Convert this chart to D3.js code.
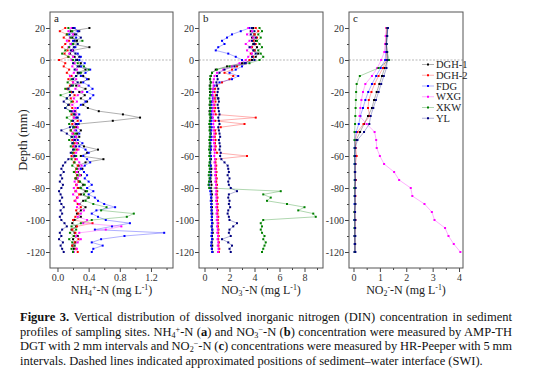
<!DOCTYPE html>
<html>
<head>
<meta charset="utf-8">
<script src="https://cdnjs.cloudflare.com/ajax/libs/d3/7.8.5/d3.min.js"></script>
<style>
  body { margin: 0; background: #fff; }
  svg text { font-family: "Liberation Serif", "Times New Roman", serif; }
</style>
</head>
<body>
<svg id="chart" width="554" height="384"></svg>
<script>
'use strict';

var sites = ['DGH-1', 'DGH-2', 'FDG', 'WXG', 'XKW', 'YL'];
var siteColors = ['#000000', '#ff0000', '#0000ff', '#ff00ff', '#008000', '#000080'];

// DGT depths (2 mm) and HR-Peeper depths (5 mm), mm
var depthDGT = [20, 18, 16, 14, 12, 10, 8, 6, 4, 2, 0,
    -2, -4, -6, -8, -10, -12, -14, -16, -18, -20,
    -22, -24, -26, -28, -30, -32, -34, -36, -38, -40,
    -42, -44, -46, -48, -50, -52, -54, -56, -58, -60,
    -62, -64, -66, -68, -70, -72, -74, -76, -78, -80,
    -82, -84, -86, -88, -90, -92, -94, -96, -98, -100,
    -102, -104, -106, -108, -110, -112, -114, -116, -118, -120];
var depthPeeper = [20, 15, 10, 5, 0, -5, -10, -15, -20, -25, -30, -35, -40, -45, -50,
    -55, -60, -65, -70, -75, -80, -85, -90, -95, -100, -105, -110, -115, -120];

// (a) NH4+-N, mg/L
var nh4DGH1 = [0.41, 0.17, 0.22, 0.19, 0.25, 0.18, 0.41, 0.20, 0.16, 0.22, 0.25,
    0.30, 0.28, 0.36, 0.26, 0.33, 0.40, 0.30, 0.24, 0.36, 0.28,
    0.35, 0.30, 0.38, 0.33, 0.39, 0.53, 0.84, 1.06, 0.71, 0.27,
    0.24, 0.30, 0.25, 0.28, 0.22, 0.26, 0.34, 0.52, 0.38, 0.30,
    0.59, 0.36, 0.27, 0.32, 0.26, 0.30, 0.24, 0.28, 0.33, 0.27,
    0.36, 0.30, 0.40, 0.33, 0.28, 0.36, 0.30, 0.25, 0.30, 0.22,
    0.19, 0.24, 0.18, 0.22, 0.26, 0.20, 0.23, 0.19, 0.21, 0.20];
var nh4DGH2 = [0.10, 0.03, 0.12, 0.08, 0.15, 0.10, 0.06, 0.13, 0.09, 0.14, 0.02,
    0.10, 0.08, 0.15, 0.12, 0.18, 0.14, 0.20, 0.16, 0.12, 0.18,
    0.22, 0.17, 0.20, 0.15, 0.19, 0.23, 0.18, 0.21, 0.26, 0.19,
    0.22, 0.17, 0.20, 0.24, 0.19, 0.22, 0.20, 0.25, 0.21, 0.18,
    0.23, 0.21, 0.26, 0.24, 0.22, 0.25, 0.23, 0.27, 0.24, 0.26,
    0.23, 0.28, 0.25, 0.22, 0.26, 0.30, 0.24, 0.27, 0.23, 0.20,
    0.45, 0.25, 0.19, 0.23, 0.21, 0.27, 0.22, 0.19, 0.24, 0.26];
var nh4FDG = [0.22, 0.26, 0.15, 0.24, 0.20, 0.17, 0.23, 0.19, 0.26, 0.30, 0.28,
    0.35, 0.30, 0.42, 0.36, 0.30, 0.38, 0.33, 0.40, 0.45, 0.38,
    0.46, 0.42, 0.36, 0.30, 0.26, 0.22, 0.28, 0.24, 0.30, 0.26,
    0.20, 0.24, 0.28, 0.22, 0.26, 0.32, 0.28, 0.36, 0.40, 0.33,
    0.38, 0.42, 0.35, 0.30, 0.34, 0.38, 0.35, 0.40, 0.44, 0.38,
    0.46, 0.40, 0.48, 0.52, 0.60, 0.74, 0.50, 0.44, 0.52, 0.62,
    0.93, 0.70, 0.48, 1.37, 0.86, 0.56, 0.44, 0.58, 0.46, 0.44];
var nh4WXG = [0.18, 0.14, 0.20, 0.16, 0.12, 0.17, 0.14, 0.19, 0.15, 0.20, 0.18,
    0.22, 0.19, 0.25, 0.21, 0.16, 0.24, 0.20, 0.28, 0.23, 0.32,
    0.26, 0.21, 0.25, 0.19, 0.23, 0.20, 0.24, 0.21, 0.19, 0.23,
    0.26, 0.22, 0.19, 0.24, 0.21, 0.25, 0.22, 0.27, 0.24, 0.21,
    0.25, 0.28, 0.31, 0.27, 0.25, 0.29, 0.26, 0.22, 0.25, 0.21,
    0.24, 0.20, 0.26, 0.23, 0.28, 0.25, 0.34, 0.30, 0.26, 0.38,
    0.33, 0.82, 0.62, 0.28, 0.24, 0.30, 0.26, 0.22, 0.25, 0.21];
var nh4XKW = [0.14, 0.19, 0.12, 0.17, 0.32, 0.20, 0.15, 0.10, 0.06, 0.14, 0.20,
    0.26, 0.34, 0.40, 0.30, 0.24, 0.18, 0.13, 0.20, 0.10, 0.16,
    0.04, 0.12, 0.18, 0.14, 0.10, 0.16, 0.21, 0.12, 0.18, 0.15,
    0.21, 0.17, 0.23, 0.19, 0.15, 0.20, 0.17, 0.22, 0.19, 0.24,
    0.18, 0.22, 0.19, 0.25, 0.21, 0.26, 0.23, 0.29, 0.35, 0.30,
    0.38, 0.34, 0.40, 0.36, 0.46, 0.63, 0.56, 0.98, 0.89, 0.44,
    0.30, 0.18, 0.24, 0.16, 0.21, 0.15, 0.19, 0.22, 0.18, 0.20];
var nh4YL = [0.20, 0.28, 0.24, 0.30, 0.22, 0.26, 0.21, 0.17, 0.23, 0.28, 0.24,
    0.20, 0.26, 0.22, 0.28, 0.24, 0.20, 0.26, 0.18, 0.14, 0.20,
    0.16, 0.12, 0.08, 0.14, 0.10, 0.18, 0.22, 0.26, 0.20, 0.24,
    0.16, 0.05, 0.12, 0.18, 0.22, 0.19, 0.24, 0.20, 0.17, 0.22,
    0.14, 0.10, 0.07, 0.05, 0.08, 0.04, 0.06, 0.03, 0.07, 0.05,
    0.02, 0.04, 0.06, 0.03, 0.05, 0.08, 0.04, 0.06, 0.03, 0.05,
    0.09, 0.12, 0.06, 0.03, 0.05, 0.02, 0.07, 0.04, 0.06, 0.08];

// (b) NO3--N, mg/L
var no3DGH1 = [3.9, 3.7, 4.0, 3.8, 4.1, 3.9, 4.2, 4.0, 4.3, 4.1, 3.8,
    3.0, 1.8, 0.9, 0.6, 0.5, 0.45, 0.5, 0.42, 0.48, 0.44,
    0.5, 1.1, 0.48, 0.42, 0.46, 0.4, 0.45, 0.5, 0.44, 0.48,
    0.42, 0.46, 0.5, 0.44, 0.48, 0.42, 0.46, 0.5, 0.45, 0.48,
    0.52, 0.46, 0.5, 0.55, 0.5, 0.54, 0.48, 0.52, 0.56, 0.5,
    0.55, 0.6, 0.54, 0.58, 0.55, 0.6, 0.56, 0.62, 0.58, 0.6,
    0.64, 0.58, 0.62, 0.66, 0.6, 0.64, 0.58, 0.62, 0.6, 0.64];
var no3DGH2 = [4.1, 4.3, 4.0, 4.2, 3.9, 4.1, 3.8, 4.0, 3.7, 3.9, 3.6,
    3.3, 2.6, 2.2, 1.6, 2.3, 2.0, 1.4, 1.0, 0.85, 0.8,
    0.9, 0.82, 0.88, 0.8, 0.86, 0.8, 0.9, 4.1, 0.85, 3.2,
    1.3, 0.85, 0.9, 0.82, 0.88, 0.84, 0.9, 0.86, 1.0, 3.4,
    0.9, 0.88, 0.94, 0.9, 0.96, 0.92, 0.98, 0.94, 1.0, 0.96,
    1.02, 0.98, 1.04, 1.0, 1.05, 1.02, 1.08, 1.04, 1.1, 1.06,
    1.1, 1.08, 1.12, 1.1, 1.14, 1.1, 1.16, 1.12, 1.18, 1.15];
var no3FDG = [3.6, 2.9, 2.2, 1.8, 1.4, 1.6, 1.1, 0.9, 1.9, 2.5, 3.0,
    3.3, 3.0, 2.5, 2.0, 2.7, 2.2, 1.2, 0.8, 0.7, 0.65,
    0.6, 0.66, 0.6, 0.56, 0.62, 0.58, 0.55, 0.6, 0.56, 0.52,
    0.58, 0.54, 0.5, 0.56, 0.52, 0.48, 0.54, 0.5, 0.46, 0.52,
    0.48, 0.44, 0.5, 0.46, 0.42, 0.48, 0.44, 0.4, 0.36, 0.42,
    0.46, 0.5, 0.54, 0.5, 0.56, 0.52, 0.58, 0.55, 0.6, 0.56,
    0.6, 0.57, 0.62, 0.58, 0.55, 0.6, 0.56, 0.52, 0.58, 0.62];
var no3WXG = [3.5, 3.8, 3.4, 3.9, 3.6, 3.3, 3.7, 3.4, 3.8, 3.5, 3.3,
    2.8, 2.2, 1.5, 1.0, 0.8, 0.75, 0.7, 0.72, 0.68, 0.7,
    0.66, 0.72, 0.68, 0.74, 0.7, 0.66, 0.72, 0.68, 0.74, 0.7,
    0.76, 0.72, 0.78, 0.74, 0.7, 0.76, 0.8, 0.76, 0.82, 0.78,
    0.84, 0.8, 0.86, 0.82, 0.88, 0.84, 0.9, 0.86, 0.92, 0.88,
    0.94, 0.9, 0.96, 0.92, 0.98, 0.94, 1.0, 0.96, 1.02, 0.98,
    1.04, 1.0, 1.06, 1.02, 1.08, 1.04, 1.1, 1.06, 1.12, 1.08];
var no3XKW = [4.4, 4.6, 4.3, 4.5, 4.2, 4.4, 4.6, 4.3, 4.5, 4.7, 4.4,
    3.6, 2.0, 1.0, 0.6, 0.48, 0.44, 0.5, 0.46, 0.42, 0.48,
    0.44, 0.4, 0.46, 0.42, 0.48, 0.44, 0.4, 0.46, 0.42, 0.38,
    0.44, 0.4, 0.46, 0.42, 0.38, 0.44, 0.4, 0.36, 0.42, 0.38,
    0.44, 0.4, 0.36, 0.42, 0.38, 0.34, 0.4, 0.36, 0.32, 0.38,
    6.1, 4.7, 5.3, 5.0, 6.6, 8.0, 7.5, 8.7, 8.9, 4.7,
    4.5, 4.6, 4.5, 4.6, 4.8, 4.7, 4.9, 4.8, 4.7, 4.6];
var no3YL = [3.8, 4.0, 3.7, 4.1, 3.8, 4.0, 3.6, 3.9, 4.1, 3.8, 4.0,
    3.2, 2.4, 1.6, 1.2, 1.0, 1.05, 0.95, 1.0, 1.1, 1.05,
    1.0, 1.1, 1.15, 1.05, 1.1, 1.15, 1.2, 1.1, 1.15, 1.2,
    1.1, 1.15, 1.2, 1.25, 1.15, 1.2, 1.25, 1.2, 1.3, 1.25,
    1.35, 1.6, 1.85, 1.9, 1.95, 1.85, 2.0, 1.9, 1.95, 2.1,
    2.6, 1.95, 1.9, 2.0, 1.95, 2.05, 1.9, 1.85, 1.95, 2.0,
    2.6, 2.3, 2.0, 1.95, 2.1, 1.4, 1.9, 2.2, 2.0, 2.1];

// (c) NO2--N, mg/L
var no2DGH1 = [1.28, 1.26, 1.24, 1.27, 1.30, 1.18, 1.08, 0.98, 0.88, 0.78, 0.70, 0.55, 0.40, 0.25, 0.10,
    0.06, 0.05, 0.06, 0.05, 0.07, 0.06, 0.05, 0.06, 0.05, 0.04, 0.06, 0.05, 0.05, 0.06];
var no2DGH2 = [1.25, 1.24, 1.22, 1.25, 1.24, 1.12, 0.95, 0.80, 0.68, 0.58, 0.55, 0.62, 0.38, 0.15, 0.06,
    0.08, 0.12, 0.07, 0.06, 0.08, 0.05, 0.07, 0.06, 0.05, 0.07, 0.06, 0.05, 0.06, 0.05];
var no2FDG = [1.30, 1.27, 1.25, 1.22, 1.20, 1.03, 0.86, 0.70, 0.56, 0.45, 0.36, 0.26, 0.20, 0.10, 0.05,
    0.04, 0.05, 0.04, 0.06, 0.05, 0.04, 0.05, 0.04, 0.05, 0.04, 0.05, 0.04, 0.05, 0.04];
var no2WXG = [1.25, 1.22, 1.20, 1.17, 1.05, 0.90, 0.70, 0.45, 0.36, 0.30, 0.26, 0.23, 0.50, 0.80, 0.86,
    0.88, 1.00, 1.16, 1.54, 1.73, 2.17, 2.23, 2.69, 2.97, 3.07, 3.47, 3.60, 3.80, 4.05];
var no2XKW = [1.28, 1.27, 1.25, 1.28, 1.35, 0.95, 0.24, 0.12, 0.10, 0.09, 0.08, 0.07, 0.06, 0.04, 0.04,
    0.05, 0.04, 0.05, 0.06, 0.05, 0.04, 0.05, 0.06, 0.04, 0.05, 0.04, 0.05, 0.06, 0.05];
var no2YL = [1.30, 1.28, 1.25, 1.27, 1.28, 1.25, 1.15, 1.05, 0.95, 0.85, 0.75, 0.65, 0.60, 0.40, 0.15,
    0.07, 0.06, 0.07, 0.06, 0.07, 0.08, 0.06, 0.07, 0.06, 0.07, 0.06, 0.07, 0.06, 0.07];

var yMajor = [20, 0, -20, -40, -60, -80, -100, -120];
var yMinor = [10, -10, -30, -50, -70, -90, -110];

var panels = [
    {label: 'a', left: 50, right: 173, xDomain: [-0.096, 1.483],
        major: [0, 0.4, 0.8, 1.2], minor: [0.2, 0.6, 1.0, 1.4], fmt: d3.format('.1f'),
        depths: depthDGT, series: [nh4DGH1, nh4DGH2, nh4FDG, nh4WXG, nh4XKW, nh4YL],
        title: [['NH'], ['4', 'sub'], ['+', 'sup'], ['-N (mg L'], ['-1', 'sup'], [')']]},
    {label: 'b', left: 199, right: 323, xDomain: [-0.44, 9.48],
        major: [0, 2, 4, 6, 8], minor: [1, 3, 5, 7, 9], fmt: d3.format('d'),
        depths: depthDGT, series: [no3DGH1, no3DGH2, no3FDG, no3WXG, no3XKW, no3YL],
        title: [['NO'], ['3', 'sub'], ['-', 'sup'], ['-N (mg L'], ['-1', 'sup'], [')']]},
    {label: 'c', left: 349, right: 463, xDomain: [-0.17, 4.15],
        major: [0, 1, 2, 3, 4], minor: [0.5, 1.5, 2.5, 3.5], fmt: d3.format('d'),
        depths: depthPeeper, series: [no2DGH1, no2DGH2, no2FDG, no2WXG, no2XKW, no2YL],
        title: [['NO'], ['2', 'sub'], ['-', 'sup'], ['-N (mg L'], ['-1', 'sup'], [')']],
        legend: true}
];

var plotTop = 12, plotBottom = 268;
var svg = d3.select('#chart');
svg.append('rect').attr('width', 554).attr('height', 384).attr('fill', '#fff');

var y = d3.scaleLinear().domain([-130, 30]).range([plotBottom, plotTop]);

// text with sub/superscripts and bold runs, shifted with dy
var rich = function (sel, parts, fs) {
    var shift = 0;
    parts.forEach(function (p) {
        var target = p[1] === 'sub' ? 0.17 * fs : (p[1] === 'sup' ? -0.3 * fs : 0);
        var t = sel.append('tspan').attr('dy', target - shift).text(p[0]);
        shift = target;
        if (p[1] === 'sub' || p[1] === 'sup') {
            t.attr('font-size', fs * 0.65);
        } else if (p[1] === 'b') {
            t.attr('font-weight', 'bold');
        }
    });
    return sel;
};

var styleAxis = function (g) {
    g.select('.domain').remove();
    g.attr('font-family', 'Liberation Serif, Times New Roman, serif')
        .attr('font-size', 10)
        .attr('color', '#444');
    g.selectAll('text').attr('fill', '#333');
};

var drawPanel = function (p) {
    var x = d3.scaleLinear().domain(p.xDomain).range([p.left, p.right]);
    var g = svg.append('g').attr('class', 'panel panel-' + p.label);

    // sediment-water interface
    g.append('line')
        .attr('x1', p.left).attr('x2', p.right)
        .attr('y1', y(0)).attr('y2', y(0))
        .attr('stroke', '#999').attr('stroke-width', 0.7)
        .attr('stroke-dasharray', '2,1.5');

    var line = d3.line()
        .x(function (d) { return x(d.v); })
        .y(function (d) { return y(d.depth); });

    p.series.forEach(function (vals, k) {
        var pts = vals.map(function (v, i) {
            return {v: v, depth: p.depths[i]};
        });
        g.append('path').datum(pts)
            .attr('d', line)
            .attr('fill', 'none')
            .attr('stroke', siteColors[k])
            .attr('stroke-opacity', 0.45)
            .attr('stroke-width', 0.7);
        g.selectAll(null).data(pts).enter()
            .append('rect')
            .attr('x', function (d) { return x(d.v) - 1; })
            .attr('y', function (d) { return y(d.depth) - 1; })
            .attr('width', 2).attr('height', 2)
            .attr('fill', siteColors[k]);
    });

    // axes
    g.append('g').attr('transform', 'translate(' + p.left + ',0)')
        .call(d3.axisLeft(y).tickValues(yMajor).tickSize(4).tickPadding(1)
            .tickFormat(function (d) { return String(d); }))
        .call(styleAxis);
    g.append('g').attr('transform', 'translate(' + p.left + ',0)')
        .call(d3.axisLeft(y).tickValues(yMinor).tickSize(2).tickFormat(''))
        .call(styleAxis);
    g.append('g').attr('transform', 'translate(0,' + plotBottom + ')')
        .call(d3.axisBottom(x).tickValues(p.major).tickSize(4).tickPadding(2).tickFormat(p.fmt))
        .call(styleAxis);
    g.append('g').attr('transform', 'translate(0,' + plotBottom + ')')
        .call(d3.axisBottom(x).tickValues(p.minor).tickSize(2).tickFormat(''))
        .call(styleAxis);

    // frame
    g.append('rect')
        .attr('x', p.left).attr('y', plotTop)
        .attr('width', p.right - p.left).attr('height', plotBottom - plotTop)
        .attr('fill', 'none').attr('stroke', '#555').attr('stroke-width', 1);

    g.append('text')
        .attr('x', p.left + 4).attr('y', plotTop + 10)
        .attr('font-size', 11).attr('fill', '#222')
        .text(p.label);

    rich(g.append('text')
        .attr('x', (p.left + p.right) / 2).attr('y', 294)
        .attr('text-anchor', 'middle')
        .attr('font-size', 12).attr('fill', '#222'), p.title, 12);

    if (p.legend) {
        var lg = g.append('g').attr('class', 'legend');
        var items = lg.selectAll('g').data(sites).enter()
            .append('g')
            .attr('transform', function (d, i) {
                return 'translate(422,' + (64.5 + i * 10.75) + ')';
            });
        items.append('line')
            .attr('x1', 0).attr('x2', 12)
            .attr('stroke', function (d, i) { return siteColors[i]; })
            .attr('stroke-opacity', 0.45).attr('stroke-width', 0.7);
        items.append('rect')
            .attr('x', 5).attr('y', -1).attr('width', 2).attr('height', 2)
            .attr('fill', function (d, i) { return siteColors[i]; });
        items.append('text')
            .attr('x', 14).attr('dy', '0.35em')
            .attr('font-size', 10.5).attr('fill', '#222')
            .text(function (d) { return d; });
    }
};

panels.forEach(drawPanel);

svg.append('text')
    .attr('transform', 'translate(26.5,140) rotate(-90)')
    .attr('text-anchor', 'middle')
    .attr('font-size', 12.5).attr('fill', '#222')
    .text('Depth (mm)');

// caption, justified line by line
var captionLines = [
    [['Figure 3.', 'b'], [' Vertical distribution of dissolved inorganic nitrogen (DIN) concentration in sediment']],
    [['profiles of sampling sites. NH'], ['4', 'sub'], ['+', 'sup'], ['-N ('], ['a', 'b'], [') and NO'], ['3', 'sub'],
        ['\u2212', 'sup'], ['-N ('], ['b', 'b'], [') concentration were measured by AMP-TH']],
    [['DGT with 2 mm intervals and NO'], ['2', 'sub'], ['\u2212', 'sup'], ['-N ('], ['c', 'b'],
        [') concentrations were measured by HR-Peeper with 5 mm']],
    [['intervals. Dashed lines indicated approximated positions of sediment\u2013water interface (SWI).']]
];
var capLeft = 20, capWidth = 492, capSize = 12.5;
captionLines.forEach(function (parts, i) {
    var t = svg.append('text')
        .attr('x', capLeft).attr('y', 321 + i * 14.5)
        .attr('font-size', capSize).attr('fill', '#111')
        .attr('xml:space', 'preserve');
    rich(t, parts, capSize);
    if (i < captionLines.length - 1) {
        var natural = t.node().getComputedTextLength();
        var spaces = parts.map(function (p) { return p[0]; }).join('').split(' ').length - 1;
        t.attr('word-spacing', (capWidth - natural) / spaces);
    }
});
</script>
</body>
</html>
